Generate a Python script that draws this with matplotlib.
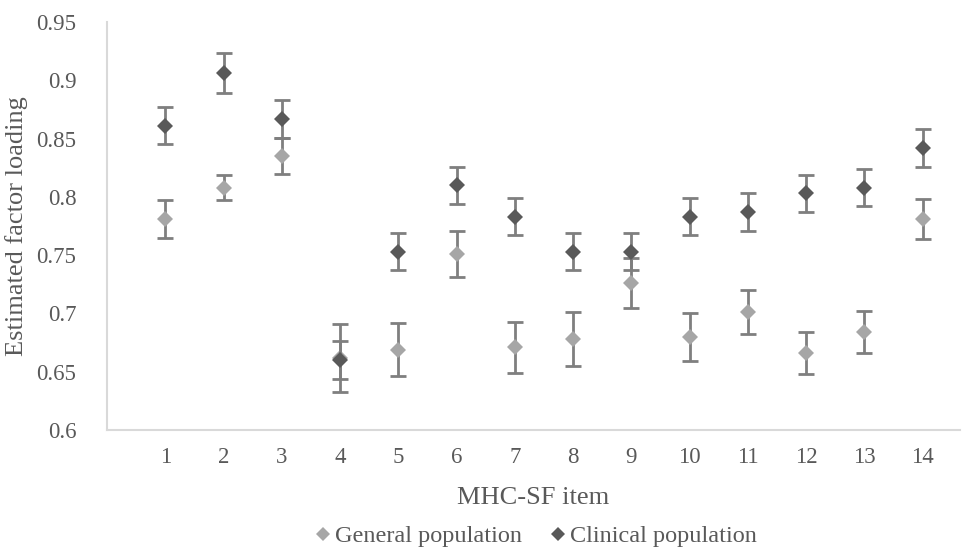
import matplotlib
matplotlib.use("Agg")
import matplotlib.pyplot as plt
from matplotlib.lines import Line2D

items = list(range(1, 15))
general = [0.781, 0.808, 0.835, 0.662, 0.669, 0.751, 0.671, 0.678, 0.726, 0.680, 0.701, 0.666, 0.684, 0.781]
general_err = [0.016, 0.011, 0.0155, 0.029, 0.0225, 0.0195, 0.022, 0.023, 0.0215, 0.0205, 0.019, 0.018, 0.018, 0.017]
clinical = [0.861, 0.906, 0.867, 0.660, 0.753, 0.810, 0.783, 0.753, 0.753, 0.783, 0.787, 0.803, 0.808, 0.842]
clinical_err = [0.016, 0.017, 0.0165, 0.016, 0.016, 0.016, 0.016, 0.016, 0.016, 0.016, 0.016, 0.016, 0.016, 0.016]
yticks = [0.6, 0.65, 0.7, 0.75, 0.8, 0.85, 0.9, 0.95]
ytick_labels = ["0.6", "0.65", "0.7", "0.75", "0.8", "0.85", "0.9", "0.95"]

plt.rcParams['font.family'] = ['Liberation Serif', 'DejaVu Serif']

fig = plt.figure(figsize=(9.64, 5.54), dpi=100)
ax = fig.add_axes([107/964, 1-430/554, (960-107)/964, (430-22)/554])

err_color = '#7f7f7f'
for vals, errs, col, z in [(general, general_err, '#a6a6a6', 2), (clinical, clinical_err, '#595959', 4)]:
    ax.errorbar(items, vals, yerr=errs, fmt='none', ecolor=err_color, elinewidth=2,
                capsize=6, capthick=2, zorder=z)
    ax.plot(items, vals, 'D', color=col, markersize=7.8, markeredgewidth=0, zorder=z + 1)

ax.set_ylim(0.6, 0.95)
ax.set_xlim(0.0, 14.64)
ax.set_yticks(yticks)
ax.set_yticklabels(ytick_labels)
ax.set_xticks(items)
ax.set_xticklabels([str(i) for i in items])

for s in ['top', 'right']:
    ax.spines[s].set_visible(False)
for s in ['left', 'bottom']:
    ax.spines[s].set_color('#d9d9d9')
    ax.spines[s].set_linewidth(1.5)
ax.tick_params(axis='both', length=0, labelsize=16.5, labelcolor='#595959')
ax.tick_params(axis='y', pad=22)
ax.tick_params(axis='x', pad=12)

ax.set_xlabel('MHC-SF item', fontsize=19, color='#595959', labelpad=14)
ax.set_ylabel('Estimated factor loading', fontsize=19, color='#595959', labelpad=6)

handles = [Line2D([], [], marker='D', linestyle='none', color='#a6a6a6', markersize=7, markeredgewidth=0),
           Line2D([], [], marker='D', linestyle='none', color='#595959', markersize=7, markeredgewidth=0)]
fig.legend(handles, ['General population', 'Clinical population'], loc='center',
           bbox_to_anchor=(535/964, 1-536/554), ncol=2, frameon=False, fontsize=17.5,
           handletextpad=0.1, columnspacing=1.1, handlelength=0.8, labelcolor='#595959')

fig.savefig('out.png', dpi=100)
